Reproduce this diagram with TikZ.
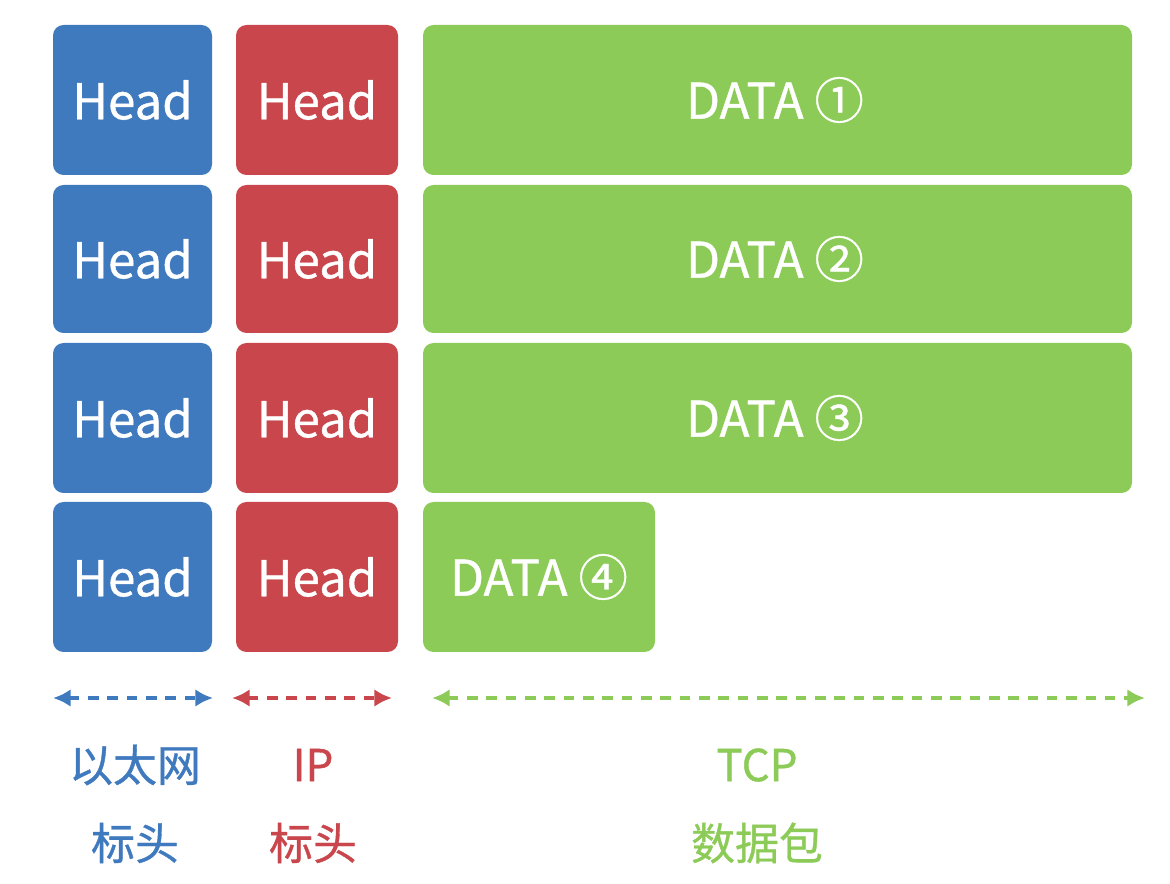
\documentclass[tikz,border=0pt]{standalone}
\usepackage{fontspec}
\setmainfont{Noto Sans CJK SC}[FakeBold=0.8,AutoFakeBold=0.8]
\newfontfamily\medfont{Noto Sans CJK SC}[FakeBold=0.8]
\usetikzlibrary{arrows.meta}
\definecolor{cb}{HTML}{3F79BE}
\definecolor{cr}{HTML}{C8464C}
\definecolor{cg}{HTML}{8DCB58}
\begin{document}
\begin{tikzpicture}[x=0.02cm,y=-0.02cm,
  pbox/.style={text=white,font=\medfont\fontsize{28}{32}\selectfont},
  lbl/.style={font=\medfont\fontsize{25}{28}\selectfont},
  span/.style={dashed,line width=2pt,dash pattern=on 6pt off 5pt,{Latex[length=10pt,width=10pt]}-{Latex[length=10pt,width=10pt]}}]
\useasboundingbox (0,0) rectangle (1170,884);
\foreach \t/\b [count=\i] in {25/175,185/333,343/493,502/652}{
  \fill[cb,rounded corners=6pt] (53,\t) rectangle (212,\b);
  \node[pbox] (e\i) at (132.5,{(\t+\b)/2}) {Head};
  \fill[cr,rounded corners=6pt] (236,\t) rectangle (398,\b);
  \node[pbox] (p\i) at (317,{(\t+\b)/2}) {Head};
}
\foreach \t/\b/\n [count=\i] in {25/175/①,185/333/②,343/493/③}{
  \fill[cg,rounded corners=6pt] (423,\t) rectangle (1132,\b);
  \node[pbox] (d\i) at (775,{(\t+\b)/2}) {DATA \n};
}
\fill[cg,rounded corners=6pt] (423,502) rectangle (655,652);
\node[pbox] (d4) at (539,577) {DATA ④};
\coordinate (a1) at (53,698); \coordinate (a2) at (213,698);
\coordinate (b1) at (232,698); \coordinate (b2) at (392,698);
\coordinate (c1) at (432,698); \coordinate (c2) at (1145,698);
\draw[span,cb] (a1) -- (a2);
\draw[span,cr] (b1) -- (b2);
\draw[span,cg] (c1) -- (c2);
\node[lbl,text=cb] (l1) at (135,765) {以太网};
\node[lbl,text=cb] (l2) at (135,843) {标头};
\node[lbl,text=cr] (l3) at (313,765) {IP};
\node[lbl,text=cr] (l4) at (313,843) {标头};
\node[lbl,text=cg] (l5) at (757,765) {TCP};
\node[lbl,text=cg] (l6) at (757,843) {数据包};
\end{tikzpicture}
\end{document}
